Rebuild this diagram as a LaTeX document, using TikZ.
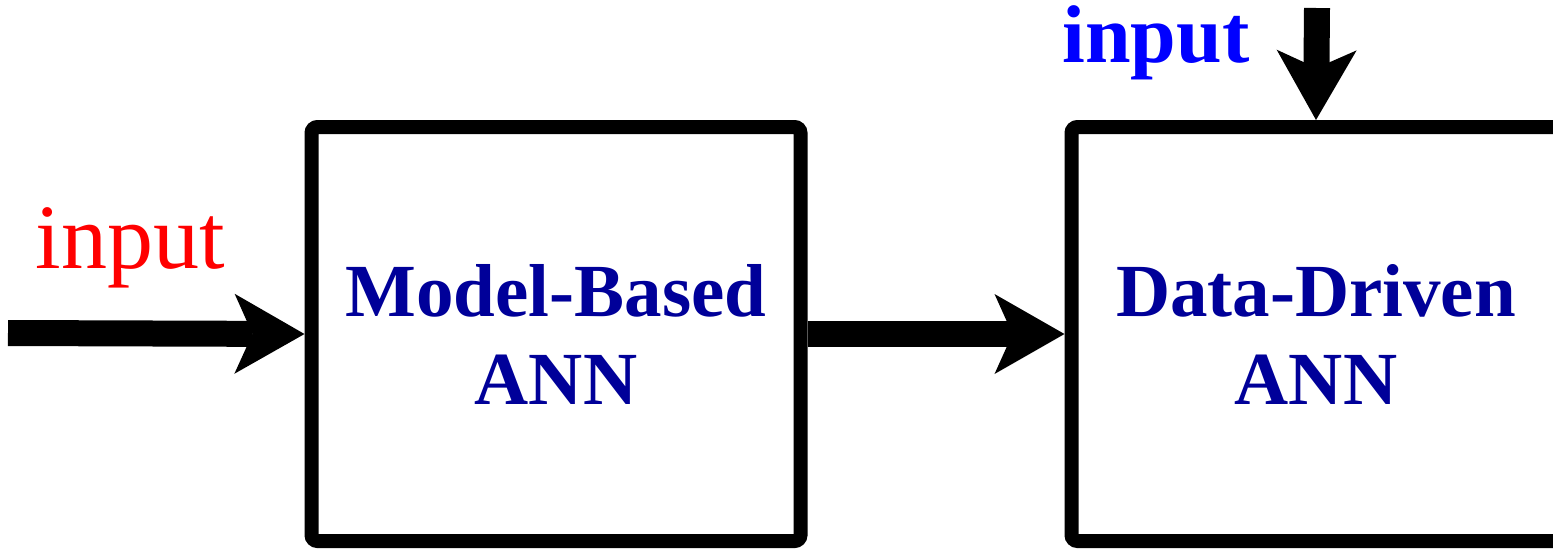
\documentclass[tikz,border=0pt]{standalone}
\usepackage{fontspec}
\setmainfont{Liberation Serif}
\usetikzlibrary{arrows.meta,positioning}
\definecolor{annblue}{HTML}{000099}
\definecolor{inred}{HTML}{FF0000}
\definecolor{inblue}{HTML}{0000FF}

\begin{document}
\begin{tikzpicture}[
  x=0.5pt,y=-0.5pt,
  block/.style={rectangle,draw=black,line width=7pt,rounded corners=3pt,minimum width=244.5pt,minimum height=207pt,align=center,inner sep=0pt,text=annblue,font=\fontsize{37.5}{44}\selectfont\bfseries},
  inlbl/.style={inner sep=0pt,anchor=base},
  flow/.style={-{Stealth[length=35pt,width=40pt,inset=9pt,line width=0pt]},line width=13pt}
]
\useasboundingbox (0,0) rectangle (1553,548);
\clip (0,0) rectangle (1553,548);
\node[block] (mb) at (556,334) {Model-Based\\ANN};
\node[block,right=128.5pt of mb] (dd) {Data-Driven\\ANN};
\coordinate (srcL) at (8,333);
\coordinate (srcT) at (1317,8);
\node[inlbl,text=inred,font=\fontsize{46}{50}\selectfont] (lblL) at (130,268) {input};
\node[inlbl,text=inblue,font=\fontsize{41}{46}\selectfont\bfseries] (lblT) at (1156,62) {input};
\draw[flow] (srcL) -- (mb.west);
\draw[flow] (mb.east) -- (dd.west);
\draw[flow] (srcT) -- (dd.north);
\end{tikzpicture}
\end{document}
